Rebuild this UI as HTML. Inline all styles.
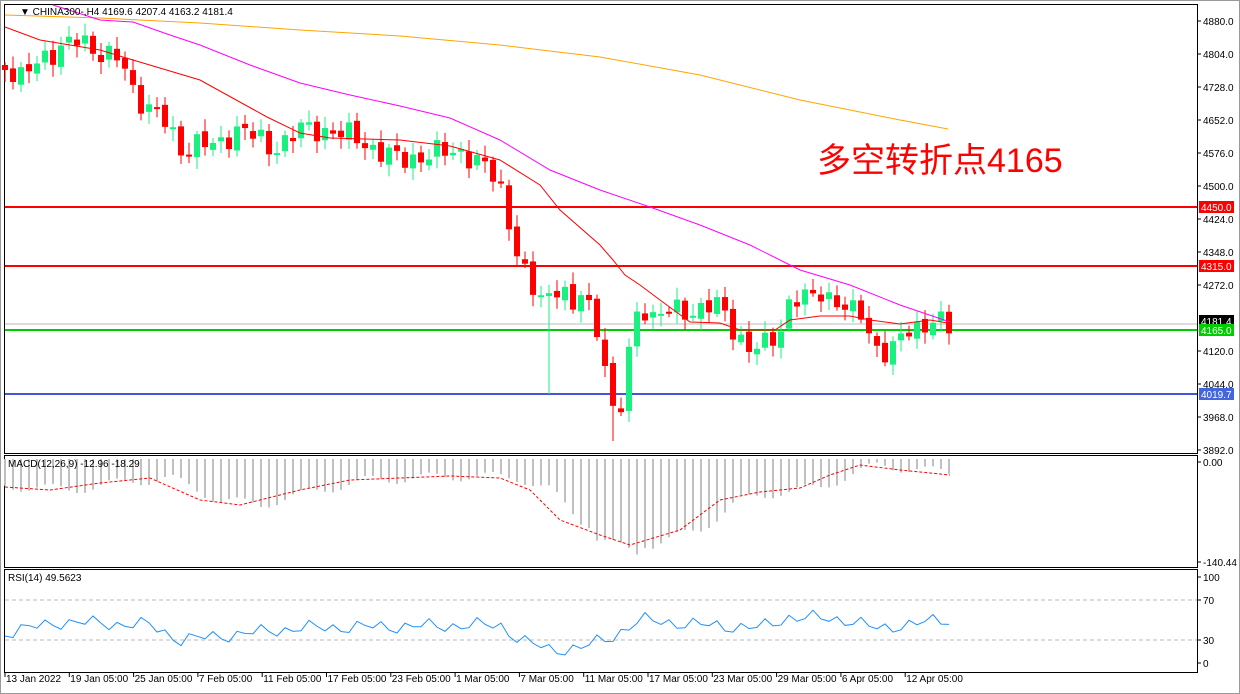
<!DOCTYPE html>
<html><head><meta charset="utf-8"><style>
html,body{margin:0;padding:0;background:#fff;width:1240px;height:694px;overflow:hidden}
svg{display:block;font-family:"Liberation Sans",sans-serif}
</style></head><body>
<svg id="s" width="1240" height="694" xmlns="http://www.w3.org/2000/svg">
<rect x="0" y="0" width="1240" height="694" fill="#fff"/>
<rect x="0.5" y="0.5" width="1239" height="693" fill="none" stroke="#999"/>
<rect x="4.5" y="4.5" width="1193" height="449" fill="none" stroke="#000"/>
<rect x="4.5" y="455.5" width="1193" height="112" fill="none" stroke="#000"/>
<rect x="4.5" y="569.5" width="1193" height="103" fill="none" stroke="#000"/>
<g id="g"></g>
<text x="20" y="15" font-size="10">▼ CHINA300-,H4  4169.6 4207.4 4163.2 4181.4</text>
<text x="8" y="467" font-size="10">MACD(12,26,9) -12.96 -18.29</text>
<text x="8" y="581" font-size="10">RSI(14) 49.5623</text>
<text x="817" y="172" font-size="34" fill="#f00" font-family="'Liberation Sans','Noto Sans CJK SC',sans-serif">多空转折点4165</text>
</svg>
<script>
(function(){
var g=document.getElementById('g'),NS='http://www.w3.org/2000/svg';
function el(t,a){var e=document.createElementNS(NS,t);for(var k in a)e.setAttribute(k,a[k]);g.appendChild(e);return e;}
function interp(P,x){for(var i=0;i<P.length-1;i++){if(x<=P[i+1][0]){var t=(x-P[i][0])/(P[i+1][0]-P[i][0]);return P[i][1]+t*(P[i+1][1]-P[i][1]);}}return P[P.length-1][1];}
function pl(P,c,w,d){var a={points:P.map(function(p){return p.join(',')}).join(' '),fill:'none',stroke:c,'stroke-width':w||1};if(d)a['stroke-dasharray']=d;el('polyline',a);}
el('line',{x1:5,x2:1197,y1:324,y2:324,stroke:'#bbb'});
el('line',{x1:5,x2:1197,y1:207,y2:207,stroke:'#f00','stroke-width':2});
el('line',{x1:5,x2:1197,y1:266,y2:266,stroke:'#f00','stroke-width':2});
el('line',{x1:5,x2:1197,y1:330,y2:330,stroke:'#00cc00','stroke-width':2});
el('line',{x1:5,x2:1197,y1:394,y2:394,stroke:'#4455dd','stroke-width':2});
var C=[[5,65],[20,80],[45,55],[80,40],[100,52],[120,60],[135,95],[160,115],[180,150],[200,140],[215,150],[240,125],[270,150],[300,130],[330,130],[360,140],[380,152],[400,160],[430,155],[460,150],[490,172],[500,185],[510,225],[520,262],[530,290],[545,300],[560,280],[575,320],[580,290],[590,310],[600,335],[608,375],[615,432],[622,405],[630,345],[640,300],[655,320],[670,310],[700,310],[720,305],[735,330],[750,352],[765,345],[780,330],[790,300],[810,300],[820,290],[835,300],[850,315],[860,310],[875,345],[890,358],[905,330],[920,325],[935,322],[950,328]];
var prev=interp(C,5);
for(var i=0;i<119;i++){var x=5+8*i;var c=interp(C,x)+Math.sin(i*2.3)*9+Math.cos(i*1.1)*5;var o=prev+Math.sin(i*3.7)*3;prev=c;
 var bt=Math.min(o,c),bb=Math.max(o,c);if(bb-bt<2)bb=bt+2;
 var col=c<o?'#19f07f':'#f00';
 var hi=bt-3-Math.abs(Math.sin(i*1.7))*9,lo=bb+3+Math.abs(Math.cos(i*2.1))*9;
 if(i==68){lo=394;} if(i==76){lo=441;}
 el('line',{x1:x,x2:x,y1:hi,y2:lo,stroke:col});
 el('rect',{x:x-3,y:bt,width:6,height:bb-bt,fill:col});}
pl([[5,15],[100,18],[200,23],[300,30],[400,36],[500,45],[600,57],[700,75],[800,100],[900,120],[948,129]],'#ffa500',1);
pl([[53,5],[100,20],[133,22],[170,35],[200,45],[250,65],[300,83],[350,95],[400,106],[450,118],[500,140],[550,170],[600,190],[650,207],[700,225],[750,245],[790,265],[800,270],[850,285],[900,305],[950,322]],'#ff00ff',1);
pl([[5,27],[40,40],[100,50],[133,60],[200,80],[267,117],[300,133],[330,138],[400,140],[450,146],[500,160],[540,185],[560,210],[600,245],[613,260],[625,275],[640,285],[660,300],[690,322],[720,323],[740,330],[775,330],[790,320],[820,316],[850,316],[870,320],[900,324],[930,320],[948,323]],'#f00',1);
var S=[[5,487],[50,490],[100,483],[150,478],[200,500],[240,505],[300,490],[350,480],[400,478],[450,476],[500,478],[530,490],[560,520],[600,535],[630,545],[680,530],[720,500],[760,492],[800,488],[830,475],[860,465],[900,470],[950,475]];
for(var i=0;i<119;i++){var x=5+8*i;var v=interp(S,x-20)+Math.sin(i*0.8)*5;if(x>590&&x<640)v+=12;
 el('line',{x1:x,x2:x,y1:459,y2:Math.max(461,v),stroke:'#c0c0c0','stroke-width':2});}
pl(S,'#f00',1,'3,2');
el('line',{x1:5,x2:1197,y1:600,y2:600,stroke:'#bbb','stroke-dasharray':'4,3'});
el('line',{x1:5,x2:1197,y1:640,y2:640,stroke:'#bbb','stroke-dasharray':'4,3'});
var R=[];for(var i=0;i<119;i++){var x=5+8*i;var b=interp([[5,633],[60,622],[150,625],[180,640],[300,628],[500,625],[520,640],[550,650],[580,648],[610,638],[640,620],[700,625],[760,628],[790,617],[850,620],[880,630],[900,625],[950,620]],x);R.push([x,b+Math.sin(i*2.1)*5+Math.cos(i*0.9)*3]);}
pl(R,'#1e90ff',1);
var A=[[21,'4880.0'],[54,'4804.0'],[87,'4728.0'],[120,'4652.0'],[153,'4576.0'],[186,'4500.0'],[219,'4424.0'],[252,'4348.0'],[285,'4272.0'],[351,'4120.0'],[384,'4044.0'],[417,'3968.0'],[450,'3892.0'],[462,'0.00'],[562,'-140.44'],[577,'100'],[600,'70'],[640,'30'],[663,'0']];
A.forEach(function(a){el('line',{x1:1197,x2:1201,y1:a[0],y2:a[0],stroke:'#000'});var t=el('text',{x:1203,y:a[0]+4,'font-size':10});t.textContent=a[1];});
[[207,'4450.0','#f00','#fff'],[266,'4315.0','#f00','#fff'],[321,'4181.4','#000','#fff'],[330,'4165.0','#00cc00','#fff'],[394,'4019.7','#4466dd','#fff']].forEach(function(a){el('rect',{x:1199,y:a[0]-6,width:35,height:12,fill:a[2]});var t=el('text',{x:1201,y:a[0]+4,'font-size':10,fill:a[3]});t.textContent=a[1];});
var D=['13 Jan 2022','19 Jan 05:00','25 Jan 05:00','7 Feb 05:00','11 Feb 05:00','17 Feb 05:00','23 Feb 05:00','1 Mar 05:00','7 Mar 05:00','11 Mar 05:00','17 Mar 05:00','23 Mar 05:00','29 Mar 05:00','6 Apr 05:00','12 Apr 05:00'];
D.forEach(function(d,i){var x=5+i*64.3;el('line',{x1:x,x2:x,y1:673,y2:677,stroke:'#000'});var t=el('text',{x:x+1,y:682,'font-size':10});t.textContent=d;});
})();
</script>
</body></html>
